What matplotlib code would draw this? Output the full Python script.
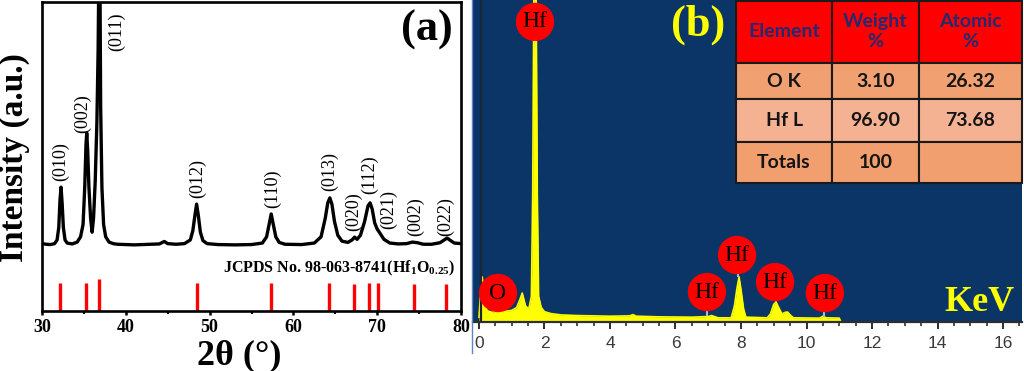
import matplotlib
matplotlib.use('Agg')
import matplotlib.pyplot as plt
from matplotlib.ticker import MultipleLocator
from matplotlib.lines import Line2D

plt.rcParams['mathtext.fontset'] = 'custom'
plt.rcParams['mathtext.rm'] = 'Liberation Serif'
plt.rcParams['mathtext.bf'] = 'Liberation Serif:bold'

# ---------------- Panel (a): XRD data ----------------
xrd_two_theta = [30.0, 30.5, 31.0, 31.5, 31.8, 32.0, 32.15, 32.27, 32.4, 32.55, 32.75, 33.0,
                 33.6, 34.2, 34.6, 34.9, 35.1, 35.25, 35.34, 35.45, 35.6, 35.8, 35.98, 36.15,
                 36.35, 36.55, 36.7, 36.8, 36.9, 37.0, 37.15, 37.35, 37.6, 38.0, 38.5, 39.0,
                 40.0, 41.0, 42.0, 43.0, 44.0, 44.6, 45.0, 46.0, 47.0, 47.7, 48.0, 48.25,
                 48.45, 48.65, 48.9, 49.2, 49.7, 51.0, 53.0, 55.0, 56.3, 56.8, 57.1, 57.35,
                 57.6, 57.9, 58.3, 59.0, 61.0, 62.5, 63.3, 63.8, 64.1, 64.35, 64.6, 64.9,
                 65.3, 65.8, 66.5, 67.0, 67.3, 67.6, 68.0, 68.5, 68.9, 69.15, 69.4, 69.7,
                 70.0, 70.3, 70.8, 71.5, 72.5, 73.5, 74.2, 74.8, 75.5, 76.5, 77.5, 78.0,
                 78.35, 78.7, 79.2, 80.0]
xrd_intensity = [21.8, 21.6, 21.5, 21.8, 23.0, 27.0, 36.0, 40.1, 35.0, 27.0, 23.0, 22.0,
                 21.7, 22.3, 24.0, 28.0, 40.0, 54.0, 57.6, 52.0, 40.0, 30.0, 25.5, 30.0,
                 42.0, 61.0, 85.0, 115.0, 115.0, 66.0, 40.0, 28.0, 24.0, 22.3, 21.8, 21.6,
                 21.5, 21.4, 21.5, 21.6, 21.7, 22.5, 21.8, 21.6, 21.8, 23.0, 26.0, 31.0,
                 34.6, 31.0, 25.5, 22.8, 21.8, 21.5, 21.4, 21.5, 22.0, 24.0, 28.0, 31.4,
                 28.0, 24.0, 22.2, 21.6, 21.5, 22.0, 24.0, 30.0, 35.0, 36.6, 34.5, 29.0,
                 24.5, 22.6, 22.2, 23.0, 23.9, 23.2, 24.5, 29.0, 34.0, 35.0, 33.0, 28.5,
                 26.5, 25.3, 23.2, 22.0, 21.7, 21.8, 22.3, 22.1, 21.6, 21.6, 22.1, 23.0,
                 23.6, 22.9, 22.0, 21.8]

ref_positions = [32.2, 35.2, 36.8, 48.45, 57.35, 64.2, 67.25, 69.05, 70.1, 74.4, 78.2]
ref_heights = [9.1, 9.1, 10.4, 9.0, 9.0, 9.0, 8.8, 9.0, 9.0, 8.8, 8.8]

hkl_labels = ['(010)', '(002)', '(011)', '(012)', '(110)', '(013)', '(020)', '(112)',
              '(021)', '(002)', '(022)']
hkl_x = [32.2, 34.8, 38.9, 48.6, 57.5, 64.3, 67.2, 69.1, 71.4, 74.6, 78.2]
hkl_y = [48.2, 64.0, 90.3, 43.0, 39.5, 45.0, 32.0, 44.0, 32.7, 30.7, 30.7]

xrd_ticks = [30, 40, 50, 60, 70, 80]

# ---------------- Panel (b): EDS data ----------------
eds_kev = [0.00, 0.05, 0.10, 0.18, 0.25, 0.40, 0.52, 0.70, 1.00, 1.15, 1.25, 1.32, 1.42,
           1.52, 1.60, 1.64, 1.68, 1.74, 1.78, 1.82, 1.90, 2.00, 2.20, 2.50, 3.00, 4.00,
           4.60, 4.70, 4.80, 5.50, 6.50, 7.00, 7.10, 7.30, 7.70, 7.80, 7.87, 7.94, 8.00,
           8.08, 8.15, 8.80, 8.90, 9.00, 9.07, 9.15, 9.25, 9.35, 9.42, 9.50, 9.60, 10.40,
           10.50, 10.60, 11.00, 11.05]
eds_counts = [1.5, 9.0, 14.0, 6.0, 3.5, 3.0, 3.5, 3.2, 3.6, 4.5, 7.0, 9.0, 5.0,
              4.0, 8.0, 40.0, 110.0, 110.0, 40.0, 8.0, 4.5, 3.2, 2.6, 2.2, 2.0, 1.8,
              1.9, 2.3, 1.8, 1.6, 1.5, 1.7, 2.0, 1.3, 1.3, 5.0, 10.0, 14.0, 10.0,
              4.0, 1.5, 1.3, 2.5, 5.5, 6.2, 4.5, 2.5, 3.0, 3.1, 2.2, 1.3, 1.2,
              1.8, 1.3, 1.2, 0.0]

peak_elements = ['Hf', 'O', 'Hf', 'Hf', 'Hf', 'Hf']
peak_label_kev = [1.71, 0.58, 6.96, 7.88, 9.04, 10.56]
peak_label_y = [93.2, 9.0, 9.3, 20.8, 12.4, 9.0]
peak_stem_kev = [1.71, 0.54, 6.96, 7.92, 9.06, 10.53]
peak_stem_bottom = [93.2, 3.0, 1.8, 14.0, 6.2, 1.6]

eds_ticks = [0, 2, 4, 6, 8, 10, 12, 14, 16]

table_header = ['Element', 'Weight\n%', 'Atomic\n%']
table_rows = [['O K', '3.10', '26.32'],
              ['Hf L', '96.90', '73.68'],
              ['Totals', '100', '']]
row_colors = ['#F1A071', '#F5B293', '#F19F6E']

# ---------------- Figure ----------------
W, H = 1024, 371
fig = plt.figure(figsize=(W / 100, H / 100), dpi=100)

serif = 'Liberation Serif'

# Panel (a)
ax = fig.add_axes([42 / W, 60 / H, 419 / W, 309 / H])
ax.plot(xrd_two_theta, xrd_intensity, color='black', lw=2.4, solid_joinstyle='round')
ax.vlines(ref_positions, 0, ref_heights, color='#FF0000', lw=2.4)
for lab, x, y in zip(hkl_labels, hkl_x, hkl_y):
    ax.text(x, y, lab, rotation=90, ha='center', va='center', fontsize=13,
            family=serif, color='black')
ax.text(79.4, 13.9, r'JCPDS No. 98-063-8741(Hf$_\mathbf{1}$O$_\mathbf{0.25}$)',
        ha='right', va='center', fontsize=11.5, family=serif, fontweight='bold')
ax.text(0.919, 0.909, '(a)', transform=ax.transAxes, ha='center', va='center',
        fontsize=32, family=serif, fontweight='bold')
ax.set_xlim(30, 80)
ax.set_ylim(0, 100)
ax.set_xticks(xrd_ticks)
ax.xaxis.set_minor_locator(MultipleLocator(5))
ax.set_yticks([])
ax.tick_params(axis='x', which='major', direction='out', length=3, width=1.8, pad=3)
ax.tick_params(axis='x', which='minor', direction='out', length=1.8, width=1.5)
for t in ax.get_xticklabels():
    t.set_fontfamily(serif)
    t.set_fontweight('bold')
    t.set_fontsize(13)
for s in ax.spines.values():
    s.set_linewidth(1.9)
ax.set_xlabel('2θ (°)', fontsize=26, family=serif, fontweight='bold')
ax.xaxis.label.set_va('center')
ax.xaxis.set_label_coords(0.47, -0.145)
ax.set_ylabel('Intensity (a.u.)', fontsize=24, family=serif, fontweight='bold')
ax.yaxis.label.set_va('center')
ax.yaxis.set_label_coords(-0.066, 0.498)

# Panel (b)
navy = '#0A3566'
bx = fig.add_axes([473 / W, 49 / H, 549 / W, 322 / H])
bx.set_facecolor(navy)
bx.fill_between(eds_kev, 0, eds_counts, color='#FFFF00', lw=0, zorder=2)
bx.plot(eds_kev, eds_counts, color='#FFFF00', lw=1.2, zorder=2)
bx.axvline(0.06, color='#1C2636', lw=1.6, zorder=3)
bx.vlines(peak_stem_kev, peak_stem_bottom, peak_label_y, color='#A9BED6', lw=1.5, zorder=3)
bx.scatter(peak_label_kev, peak_label_y, s=760, color='#FF0000', edgecolors='none', zorder=4)
for el, x, y in zip(peak_elements, peak_label_kev, peak_label_y):
    bx.text(x, y, el, ha='center', va='center', fontsize=17, family=serif,
            color='black', zorder=5)
bx.text(0.41, 0.922, '(b)', transform=bx.transAxes, ha='center', va='center',
        fontsize=32, family=serif, fontweight='bold', color='#FFFF00')
bx.text(0.922, 0.062, 'KeV', transform=bx.transAxes, ha='center', va='center',
        fontsize=26, family=serif, fontweight='bold', color='#FFFF00')
bx.set_xlim(-0.183, 16.58)
bx.set_ylim(0, 100)
bx.set_xticks(eds_ticks)
bx.xaxis.set_minor_locator(MultipleLocator(0.5))
bx.set_yticks([])
for side in ['left', 'right', 'top']:
    bx.spines[side].set_visible(False)
bx.spines['bottom'].set_color('#2E2E2E')
bx.spines['bottom'].set_linewidth(1.6)
bx.tick_params(axis='x', which='major', direction='out', length=5, width=1.4,
               color='#2E2E2E', pad=5, labelcolor='#3A3A3A')
bx.tick_params(axis='x', which='minor', direction='out', length=3, width=1.2,
               color='#2E2E2E')
for t in bx.get_xticklabels():
    t.set_fontfamily('Liberation Sans')
    t.set_fontsize(12.5)

# Table
tax = fig.add_axes([736 / W, 188 / H, 286 / W, 182 / H])
tax.axis('off')
tbl = tax.table(cellText=table_rows, colLabels=table_header, cellLoc='center',
                colWidths=[96, 87, 103], bbox=[0, 0, 1, 1])
tbl.auto_set_font_size(False)
row_h = [62, 37, 43, 41]
for (r, c), cell in tbl.get_celld().items():
    cell.set_height(row_h[r])
    cell.set_edgecolor('#1A1A1A')
    cell.set_linewidth(1.5)
    txt = cell.get_text()
    txt.set_fontfamily('Lato')
    txt.set_fontweight('bold')
    if r == 0:
        cell.set_facecolor('#FF0000')
        txt.set_color('#232A70')
        txt.set_fontsize(14)
        txt.set_linespacing(1.2)
    else:
        cell.set_facecolor(row_colors[r - 1])
        txt.set_color('#141414')
        txt.set_fontsize(14)

# left edge line of panel (b) image
fig.add_artist(Line2D([472 / W, 472 / W], [(H - 353) / H, 1], color='#5B86C0', lw=1.0))

fig.savefig('out.png', dpi=100)
